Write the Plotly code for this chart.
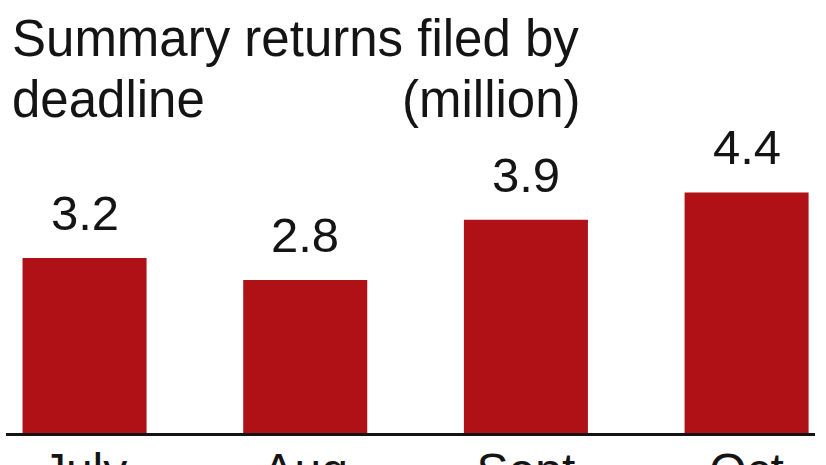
import plotly.graph_objects as go

categories = ["July", "Aug", "Sept", "Oct"]
values = [3.2, 2.8, 3.9, 4.4]
value_labels = ["3.2", "2.8", "3.9", "4.4"]
title_line1 = "Summary returns filed by"
title_line2 = "deadline"
unit_label = "(million)"

W, H = 826, 465
ML, MR, MT, MB = 6, 11, 0, 32
PW = W - ML - MR
PH = H - MT - MB

def px_x(x):
    return (x - ML) / PW

def px_y(y):
    return (H - MB - y) / PH

BAR = "#b01116"
INK = "#141414"
TFONT = "Liberation Sans"

fig = go.Figure(go.Bar(
    x=categories, y=values, marker=dict(color=BAR, line=dict(width=0)),
    width=0.562, hoverinfo="skip",
))

annotations = [
    dict(text=title_line1, x=px_x(10), y=px_y(8), xref="paper", yref="paper",
         xanchor="left", yanchor="top", showarrow=False,
         font=dict(family=TFONT, size=51, color=INK)),
    dict(text=title_line2, x=px_x(10), y=px_y(69), xref="paper", yref="paper",
         xanchor="left", yanchor="top", showarrow=False,
         font=dict(family=TFONT, size=51, color=INK)),
    dict(text=unit_label, x=px_x(400), y=px_y(69), xref="paper", yref="paper",
         xanchor="left", yanchor="top", showarrow=False,
         font=dict(family=TFONT, size=51, color=INK)),
]
for c, v, t in zip(categories, values, value_labels):
    annotations.append(dict(text=t, x=c, y=v, xref="x", yref="y",
                            xanchor="center", yanchor="bottom", yshift=16,
                            showarrow=False,
                            font=dict(family=TFONT, size=49, color=INK)))

fig.update_layout(
    width=W, height=H,
    margin=dict(l=ML, r=MR, t=MT, b=MB),
    paper_bgcolor="white", plot_bgcolor="white",
    showlegend=False,
    annotations=annotations,
    xaxis=dict(
        type="category", range=[-0.356, 3.31],
        showline=True, linecolor=INK, linewidth=3,
        showgrid=False, zeroline=False, ticks="",
        ticklabelstandoff=-7,
        tickfont=dict(family=TFONT, size=48, color=INK),
        automargin=False, fixedrange=True,
    ),
    yaxis=dict(
        range=[0, 7.92], visible=False, showgrid=False, zeroline=False,
        automargin=False, fixedrange=True,
    ),
)

fig.write_html("out.html", config={"displayModeBar": False})

with open("out.html", "r", encoding="utf-8") as f:
    html = f.read()
html = html.replace("<head>", "<head><style>html,body{margin:0;padding:0;overflow:hidden;}</style>", 1)
with open("out.html", "w", encoding="utf-8") as f:
    f.write(html)
